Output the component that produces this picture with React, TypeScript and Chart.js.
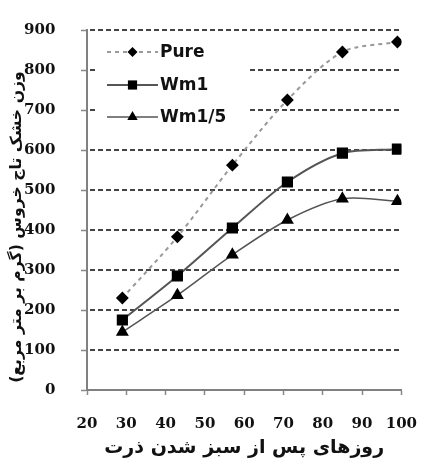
import React, { useEffect, useRef } from "react";
import { Chart, registerables } from "chart.js";

Chart.register(...registerables);

const days = [29, 43, 57, 71, 85, 99];
const pure = [230, 383, 562, 725, 845, 870];
const wm1 = [175, 285, 405, 520, 592, 602];
const wm15 = [145, 237, 338, 425, 478, 472];
const yGridValues = [100, 200, 300, 400, 500, 600, 700, 800, 900];
const seriesNames = ["Pure", "Wm1", "Wm1/5"];
const xTitle = "روزهای پس از سبز شدن ذرت";
const yTitle = "وزن خشک تاج خروس (گرم بر متر مربع)";

function marker(ctx: CanvasRenderingContext2D, style: string, r: number, x: number, y: number) {
  ctx.beginPath();
  if (style === "rectRot") {
    ctx.moveTo(x, y - r);
    ctx.lineTo(x + r, y);
    ctx.lineTo(x, y + r);
    ctx.lineTo(x - r, y);
    ctx.closePath();
  } else if (style === "rect") {
    const s = r * Math.SQRT1_2;
    ctx.rect(x - s, y - s, 2 * s, 2 * s);
  } else {
    const w = r * Math.sqrt(3);
    ctx.moveTo(x, y - r);
    ctx.lineTo(x + w / 2, y + r / 2);
    ctx.lineTo(x - w / 2, y + r / 2);
    ctx.closePath();
  }
  ctx.fill();
}

const gridPlugin = {
  id: "dashedGrid",
  beforeDatasetsDraw(chart: any) {
    const ctx = chart.ctx;
    const ca = chart.chartArea;
    const ys = chart.scales.y;
    ctx.save();
    ctx.strokeStyle = "#444";
    ctx.lineWidth = 2;
    ctx.lineCap = "butt";
    ctx.setLineDash([5, 3]);
    yGridValues.forEach((v) => {
      const py = Math.round(ys.getPixelForValue(v));
      ctx.beginPath();
      ctx.moveTo(ca.left + 3, py);
      ctx.lineTo(ca.right, py);
      ctx.stroke();
    });
    ctx.restore();
    // rotated y-axis title
    ctx.save();
    ctx.translate(17, (ca.top + ca.bottom) / 2 + 17);
    ctx.rotate(-Math.PI / 2);
    ctx.fillStyle = "#111";
    ctx.font = "bold 15.7px 'DejaVu Sans'";
    ctx.textAlign = "center";
    ctx.textBaseline = "middle";
    ctx.fillText(yTitle, 0, 0);
    ctx.restore();
  },
};

const legendPlugin = {
  id: "insideLegend",
  afterDatasetsDraw(chart: any) {
    const ctx = chart.ctx;
    const ca = chart.chartArea;
    ctx.save();
    ctx.fillStyle = "#ffffff";
    ctx.fillRect(ca.left + 8, ca.top + 9, 152, 92);
    const rows = [
      { y: ca.top + 22, ds: chart.data.datasets[0] },
      { y: ca.top + 55, ds: chart.data.datasets[1] },
      { y: ca.top + 87, ds: chart.data.datasets[2] },
    ];
    const x1 = ca.left + 20;
    const x2 = ca.left + 71;
    const xm = (x1 + x2) / 2;
    rows.forEach((r, i) => {
      ctx.beginPath();
      ctx.strokeStyle = r.ds.borderColor;
      ctx.lineWidth = r.ds.borderWidth;
      ctx.setLineDash(r.ds.borderDash || []);
      ctx.moveTo(x1, r.y);
      ctx.lineTo(x2, r.y);
      ctx.stroke();
      ctx.setLineDash([]);
      ctx.fillStyle = "#000";
      marker(ctx, r.ds.pointStyle, r.ds.pointRadius, xm, r.y);
      ctx.fillStyle = "#111";
      ctx.font = "bold 17px 'DejaVu Sans'";
      ctx.textBaseline = "middle";
      ctx.textAlign = "left";
      ctx.fillText(seriesNames[i], x2 + 2, r.y + 1);
    });
    ctx.restore();
  },
};

export default function App() {
  const ref = useRef<HTMLCanvasElement>(null);
  useEffect(() => {
    if (!ref.current) return;
    const mk = (arr: number[]) => days.map((d, i) => ({ x: d, y: arr[i] }));
    const chart = new Chart(ref.current, {
      type: "line",
      data: {
        datasets: [
          {
            label: seriesNames[0],
            data: mk(pure),
            borderColor: "#999",
            borderWidth: 2,
            borderDash: [4, 4],
            pointStyle: "rectRot",
            pointRadius: 5,
            pointBackgroundColor: "#000",
            pointBorderColor: "#000",
            tension: 0.3,
          },
          {
            label: seriesNames[1],
            data: mk(wm1),
            borderColor: "#555",
            borderWidth: 2,
            pointStyle: "rect",
            pointRadius: 6.5,
            pointBackgroundColor: "#000",
            pointBorderColor: "#000",
            tension: 0.3,
          },
          {
            label: seriesNames[2],
            data: mk(wm15),
            borderColor: "#555",
            borderWidth: 1.5,
            pointStyle: "triangle",
            pointRadius: 6,
            pointBackgroundColor: "#000",
            pointBorderColor: "#000",
            tension: 0.3,
          },
        ],
      },
      options: {
        animation: false,
        responsive: true,
        maintainAspectRatio: false,
        layout: { padding: { top: 30, right: 19, left: 0, bottom: 0 } },
        plugins: { legend: { display: false }, tooltip: { enabled: false } },
        scales: {
          x: {
            type: "linear",
            min: 20,
            max: 100,
            ticks: {
              stepSize: 10,
              color: "#111",
              padding: 20,
              font: { family: "'DejaVu Serif'", weight: "bold", size: 15 },
            },
            grid: { drawOnChartArea: false, drawTicks: true, tickLength: 5, tickColor: "#888", tickWidth: 1.5 },
            border: { color: "#808080", width: 2 },
            title: {
              display: true,
              text: xTitle,
              color: "#111",
              font: { family: "'DejaVu Sans'", weight: "bold", size: 19 },
              padding: { top: 0, bottom: 0 },
            },
            afterFit: (s: any) => { s.height = 69; },
          },
          y: {
            min: 0,
            max: 900,
            ticks: {
              stepSize: 100,
              color: "#111",
              padding: 10,
              callback: (v: any) => String(v) + "   ",
              font: { family: "'DejaVu Serif'", weight: "bold", size: 15 },
            },
            grid: {
              drawOnChartArea: false,
              drawTicks: true,
              tickLength: 6,
              tickColor: "#888",
              tickWidth: 1.5,
            },
            border: { color: "#808080", width: 2 },
            title: { display: false },
            afterFit: (s: any) => { s.width = 87; },
          },
        },
      },
      plugins: [gridPlugin, legendPlugin],
    } as any);
    return () => chart.destroy();
  }, []);
  return (
    <div style={{ position: "fixed", left: 0, top: 0, width: 437, height: 459, background: "#fff" }}>
      <canvas ref={ref} />
    </div>
  );
}
